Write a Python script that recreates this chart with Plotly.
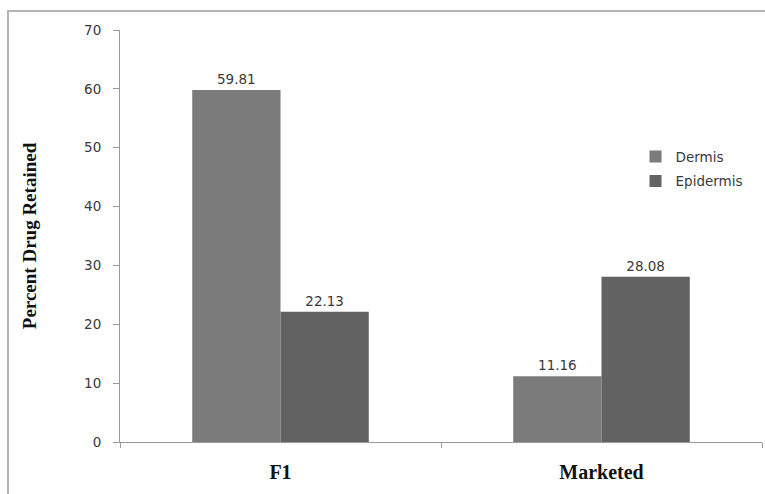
import plotly.graph_objects as go

categories = ["F1", "Marketed"]
dermis = [59.81, 11.16]
epidermis = [22.13, 28.08]
dermis_labels = ["59.81", "11.16"]
epidermis_labels = ["22.13", "28.08"]
y_ticks = [0, 10, 20, 30, 40, 50, 60, 70]

tick_font = dict(family="DejaVu Sans", size=13.5, color="#3a3a3a")
serif_bold = dict(family="Liberation Serif", size=20, color="#111111", weight="bold")

fig = go.Figure()
fig.add_trace(go.Bar(
    name="Dermis", x=categories, y=dermis, text=dermis_labels,
    textposition="outside", textfont=tick_font, cliponaxis=False,
    marker=dict(color="#7b7b7b", line=dict(width=0)), legendgroup="a",
))
fig.add_trace(go.Bar(
    name="Epidermis", x=categories, y=epidermis, text=epidermis_labels,
    textposition="outside", textfont=tick_font, cliponaxis=False,
    marker=dict(color="#626262", line=dict(width=0)), legendgroup="b",
))

fig.update_layout(
    width=765, height=494,
    margin=dict(l=120, r=3, t=30, b=52),
    paper_bgcolor="white", plot_bgcolor="white",
    barmode="group", bargap=0.45, bargroupgap=0,
    showlegend=True,
    legend=dict(x=0.803, y=0.73, xanchor="left", yanchor="top",
                font=tick_font, bgcolor="rgba(0,0,0,0)", tracegroupgap=4,
                itemwidth=30),
    xaxis=dict(
        showline=True, linecolor="#9a9a9a", linewidth=1,
        ticks="outside", tickson="boundaries", ticklen=5, tickcolor="#9a9a9a",
        tickfont=serif_bold,
        ticklabelstandoff=12, showgrid=False, zeroline=False,
    ),
    yaxis=dict(
        range=[0, 70], tickvals=y_ticks, showline=True, linecolor="#9a9a9a",
        linewidth=1, ticks="outside", ticklen=6, tickcolor="#9a9a9a",
        tickfont=tick_font, showgrid=False, zeroline=False,
        ticklabelstandoff=9,
        title=dict(text="Percent Drug Retained", standoff=42,
                   font=dict(family="Liberation Serif", size=19, color="#111111",
                             weight="bold")),
    ),
    shapes=[dict(type="rect", xref="paper", yref="paper",
                 x0=-0.1745, x1=1.2, y0=-0.3, y1=1.046,
                 line=dict(color="#b4b4b4", width=2), fillcolor="rgba(0,0,0,0)",
                 layer="below")],
)

fig.write_html("out.html")
